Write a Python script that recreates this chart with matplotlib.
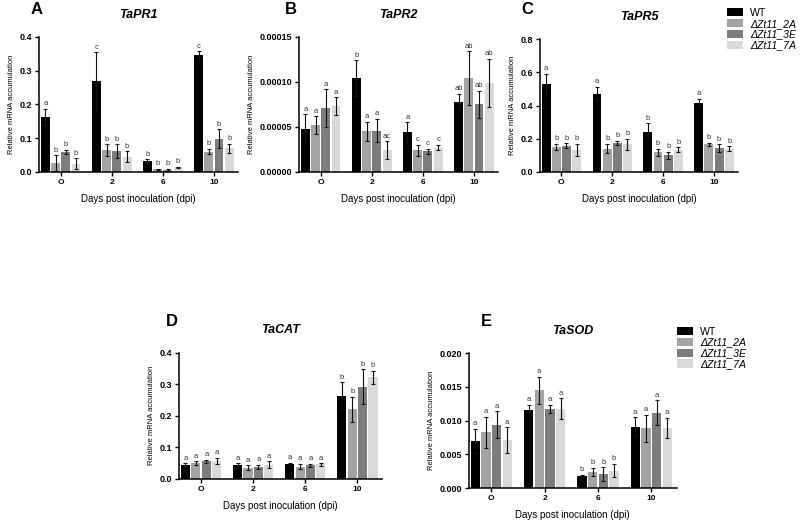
import matplotlib.pyplot as plt
from matplotlib.patches import Patch
import numpy as np

plt.rcParams['font.family'] = ['Liberation Sans', 'DejaVu Sans']

days = ['O', '2', '6', '10']
lines = ['WT', 'ΔZt11_2A', 'ΔZt11_3E', 'ΔZt11_7A']
colors = ['#000000', '#a3a3a5', '#7d7d7f', '#d9d9d9']

# each panel: rows = lines (WT, 2A, 3E, 7A), columns = days
pr1_mean = [[0.163, 0.270, 0.033, 0.346],
            [0.026, 0.065, 0.008, 0.060],
            [0.059, 0.062, 0.006, 0.098],
            [0.024, 0.045, 0.014, 0.070]]
pr1_err = [[0.025, 0.085, 0.004, 0.012],
           [0.023, 0.017, 0.002, 0.008],
           [0.007, 0.020, 0.003, 0.028],
           [0.016, 0.016, 0.001, 0.013]]
pr1_let = [['a', 'c', 'b', 'c'], ['b'] * 4, ['b'] * 4, ['b'] * 4]

pr2_mean = [[4.8e-5, 1.04e-4, 4.4e-5, 7.8e-5],
            [5.2e-5, 4.5e-5, 2.4e-5, 1.04e-4],
            [7.1e-5, 4.6e-5, 2.3e-5, 7.5e-5],
            [7.3e-5, 2.4e-5, 2.7e-5, 9.9e-5]]
pr2_err = [[1.6e-5, 2.0e-5, 1.1e-5, 0.9e-5],
           [1.0e-5, 1.1e-5, 0.6e-5, 3.0e-5],
           [2.1e-5, 1.3e-5, 0.3e-5, 1.5e-5],
           [1.0e-5, 1.0e-5, 0.3e-5, 2.7e-5]]
pr2_let = [['a', 'b', 'a', 'ab'], ['a', 'a', 'c', 'ab'],
           ['a', 'a', 'c', 'ab'], ['a', 'ac', 'c', 'ab']]

pr5_mean = [[0.530, 0.472, 0.243, 0.415],
            [0.150, 0.140, 0.118, 0.167],
            [0.157, 0.176, 0.100, 0.142],
            [0.133, 0.166, 0.133, 0.140]]
pr5_err = [[0.060, 0.040, 0.050, 0.025],
           [0.020, 0.028, 0.020, 0.010],
           [0.015, 0.013, 0.020, 0.025],
           [0.035, 0.035, 0.015, 0.015]]
pr5_let = [['a', 'a', 'b', 'a'], ['b'] * 4, ['b'] * 4, ['b'] * 4]

cat_mean = [[0.045, 0.045, 0.047, 0.262],
            [0.049, 0.035, 0.039, 0.220],
            [0.055, 0.038, 0.043, 0.292],
            [0.057, 0.045, 0.046, 0.322]]
cat_err = [[0.005, 0.005, 0.004, 0.045],
           [0.006, 0.008, 0.008, 0.040],
           [0.006, 0.007, 0.005, 0.055],
           [0.010, 0.010, 0.004, 0.020]]
cat_let = [['a', 'a', 'a', 'b']] * 4

sod_mean = [[0.0070, 0.0116, 0.0018, 0.0091],
            [0.0083, 0.0145, 0.0024, 0.0089],
            [0.0094, 0.0118, 0.0021, 0.0112],
            [0.0071, 0.0118, 0.0026, 0.0089]]
sod_err = [[0.0018, 0.0008, 0.0002, 0.0014],
           [0.0023, 0.0020, 0.0006, 0.0020],
           [0.0020, 0.0006, 0.0010, 0.0018],
           [0.0019, 0.0015, 0.0010, 0.0015]]
sod_let = [['a', 'a', 'b', 'a']] * 4


def draw_panel(rect, mean, err, letters, title, label, label_xy, ymax, yticks, fmt):
    ax = fig.add_axes(rect)
    x = np.arange(len(days))
    ypad = ymax * 0.012
    for i in range(len(lines)):
        xs = x + (i - 1.5) * 0.2
        ax.bar(xs, mean[i], width=0.175, color=colors[i], zorder=2)
        ax.errorbar(xs, mean[i], yerr=err[i], fmt='none', ecolor='#111111',
                    elinewidth=0.8, capsize=1.5, capthick=0.8, zorder=3)
        for j in range(len(days)):
            ax.text(xs[j], mean[i][j] + err[i][j] + ypad, letters[i][j],
                    ha='center', va='bottom', fontsize=5.5, color='#333333')
    ax.set_xlim(-0.42, 3.48)
    ax.set_ylim(0, ymax)
    ax.set_yticks(yticks)
    ax.set_yticklabels([fmt.format(v) for v in yticks], fontsize=6.5, fontweight='bold')
    ax.set_xticks(x)
    ax.set_xticklabels(days, fontsize=6, fontweight='bold')
    ax.spines['top'].set_visible(False)
    ax.spines['right'].set_visible(False)
    ax.spines['left'].set_linewidth(1.1)
    ax.spines['bottom'].set_linewidth(1.1)
    ax.tick_params(axis='both', width=1.0, length=3, pad=2)
    ax.set_ylabel('Relative mRNA accumulation', fontsize=5.5, labelpad=3)
    ax.set_xlabel('Days post inoculation (dpi)', fontsize=7, labelpad=6)
    ax.set_title(title, fontsize=9, fontweight='bold', style='italic', pad=14)
    fig.text(label_xy[0] / 800, 1 - label_xy[1] / 521, label, fontsize=12,
             fontweight='bold', ha='center', va='center')
    return ax


fig = plt.figure(figsize=(8, 5.21), dpi=100)

draw_panel([0.049, 0.670, 0.249, 0.259], pr1_mean, pr1_err, pr1_let, 'TaPR1', 'A',
           (37, 10), 0.4, [0.0, 0.1, 0.2, 0.3, 0.4], '{:.1f}')
draw_panel([0.374, 0.670, 0.249, 0.259], pr2_mean, pr2_err, pr2_let, 'TaPR2', 'B',
           (291, 10), 0.00015, [0.0, 0.00005, 0.0001, 0.00015], '{:.5f}')
draw_panel([0.675, 0.670, 0.248, 0.255], pr5_mean, pr5_err, pr5_let, 'TaPR5', 'C',
           (527, 10), 0.8, [0.0, 0.2, 0.4, 0.6, 0.8], '{:.1f}')
draw_panel([0.224, 0.081, 0.254, 0.242], cat_mean, cat_err, cat_let, 'TaCAT', 'D',
           (172, 322), 0.4, [0.0, 0.1, 0.2, 0.3, 0.4], '{:.1f}')
draw_panel([0.586, 0.063, 0.260, 0.259], sod_mean, sod_err, sod_let, 'TaSOD', 'E',
           (486, 322), 0.020, [0.0, 0.005, 0.010, 0.015, 0.020], '{:.3f}')

handles = [Patch(facecolor=c, edgecolor='none') for c in colors]
for anchor in [(0.909, 0.985), (0.8465, 0.373)]:
    leg = fig.legend(handles, lines, loc='upper left', bbox_to_anchor=anchor,
                     frameon=False, fontsize=7.6, handlelength=1.45, handleheight=0.8,
                     handletextpad=0.7, labelspacing=0.08, borderaxespad=0,
                     borderpad=0)
    for t in leg.get_texts()[1:]:
        t.set_style('italic')

fig.savefig('out.png', dpi=100)
